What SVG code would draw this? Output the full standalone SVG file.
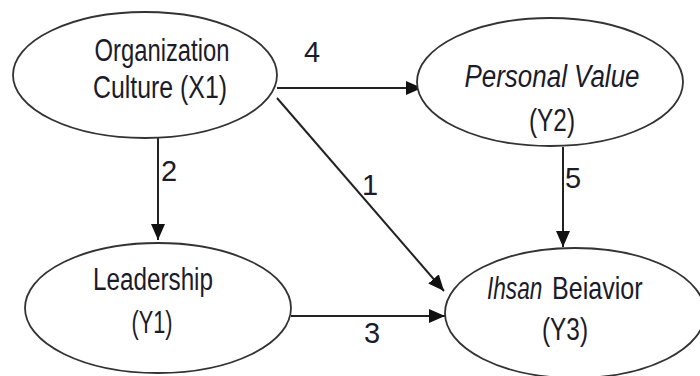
<svg xmlns="http://www.w3.org/2000/svg" width="700" height="376" viewBox="0 0 700 376">
<style>
.node ellipse{fill:#fff;stroke:#333;stroke-width:1.8}
text{font-family:"Liberation Sans",Arial,sans-serif;font-size:31px;fill:#1b1b2a;text-anchor:middle}
.it{font-style:italic}
.st{text-anchor:start}
.edges line{stroke:#222;stroke-width:2}
.lbl{font-size:29px}
</style>
<defs>
<marker id="ah" markerUnits="userSpaceOnUse" markerWidth="16" markerHeight="14" refX="16" refY="7" orient="auto">
<path d="M0,0 L16,7 L0,14 z" fill="#111"/>
</marker>
</defs>
<rect width="700" height="376" fill="#fff"/>
<g class="edges">
<line x1="277" y1="88" x2="422" y2="88" marker-end="url(#ah)"/>
<line x1="158" y1="138" x2="158" y2="240" marker-end="url(#ah)"/>
<line x1="277" y1="98" x2="444" y2="291" marker-end="url(#ah)"/>
<line x1="563" y1="147" x2="563" y2="247" marker-end="url(#ah)"/>
<line x1="291" y1="316" x2="445" y2="316" marker-end="url(#ah)"/>
<text class="lbl" x="312" y="62">4</text>
<text class="lbl" x="169" y="181">2</text>
<text class="lbl" x="370" y="195">1</text>
<text class="lbl" x="573" y="188">5</text>
<text class="lbl" x="372" y="343">3</text>
</g>
<g id="x1" class="node">
<ellipse cx="145" cy="75" rx="132" ry="63"/>
<text x="162" y="61" textLength="135" lengthAdjust="spacingAndGlyphs">Organization</text>
<text x="160" y="98" textLength="134" lengthAdjust="spacingAndGlyphs">Culture (X1)</text>
</g>
<g id="y2" class="node">
<ellipse cx="550" cy="82" rx="133" ry="64"/>
<text class="it" x="552" y="87" textLength="175" lengthAdjust="spacingAndGlyphs">Personal Value</text>
<text x="552" y="131" textLength="46" lengthAdjust="spacingAndGlyphs">(Y2)</text>
</g>
<g id="y1" class="node">
<ellipse cx="158" cy="308" rx="133" ry="65"/>
<text x="153" y="290" textLength="120" lengthAdjust="spacingAndGlyphs">Leadership</text>
<text x="152" y="333" textLength="41" lengthAdjust="spacingAndGlyphs">(Y1)</text>
</g>
<g id="y3" class="node">
<ellipse cx="575" cy="313" rx="130" ry="65"/>
<text class="it st" transform="translate(487,299) scale(0.73,1)">Ihsan</text>
<text class="st" transform="translate(552,299) scale(0.81,1)">Beiavior</text>
<text x="565" y="340" textLength="46" lengthAdjust="spacingAndGlyphs">(Y3)</text>
</g>
</svg>
